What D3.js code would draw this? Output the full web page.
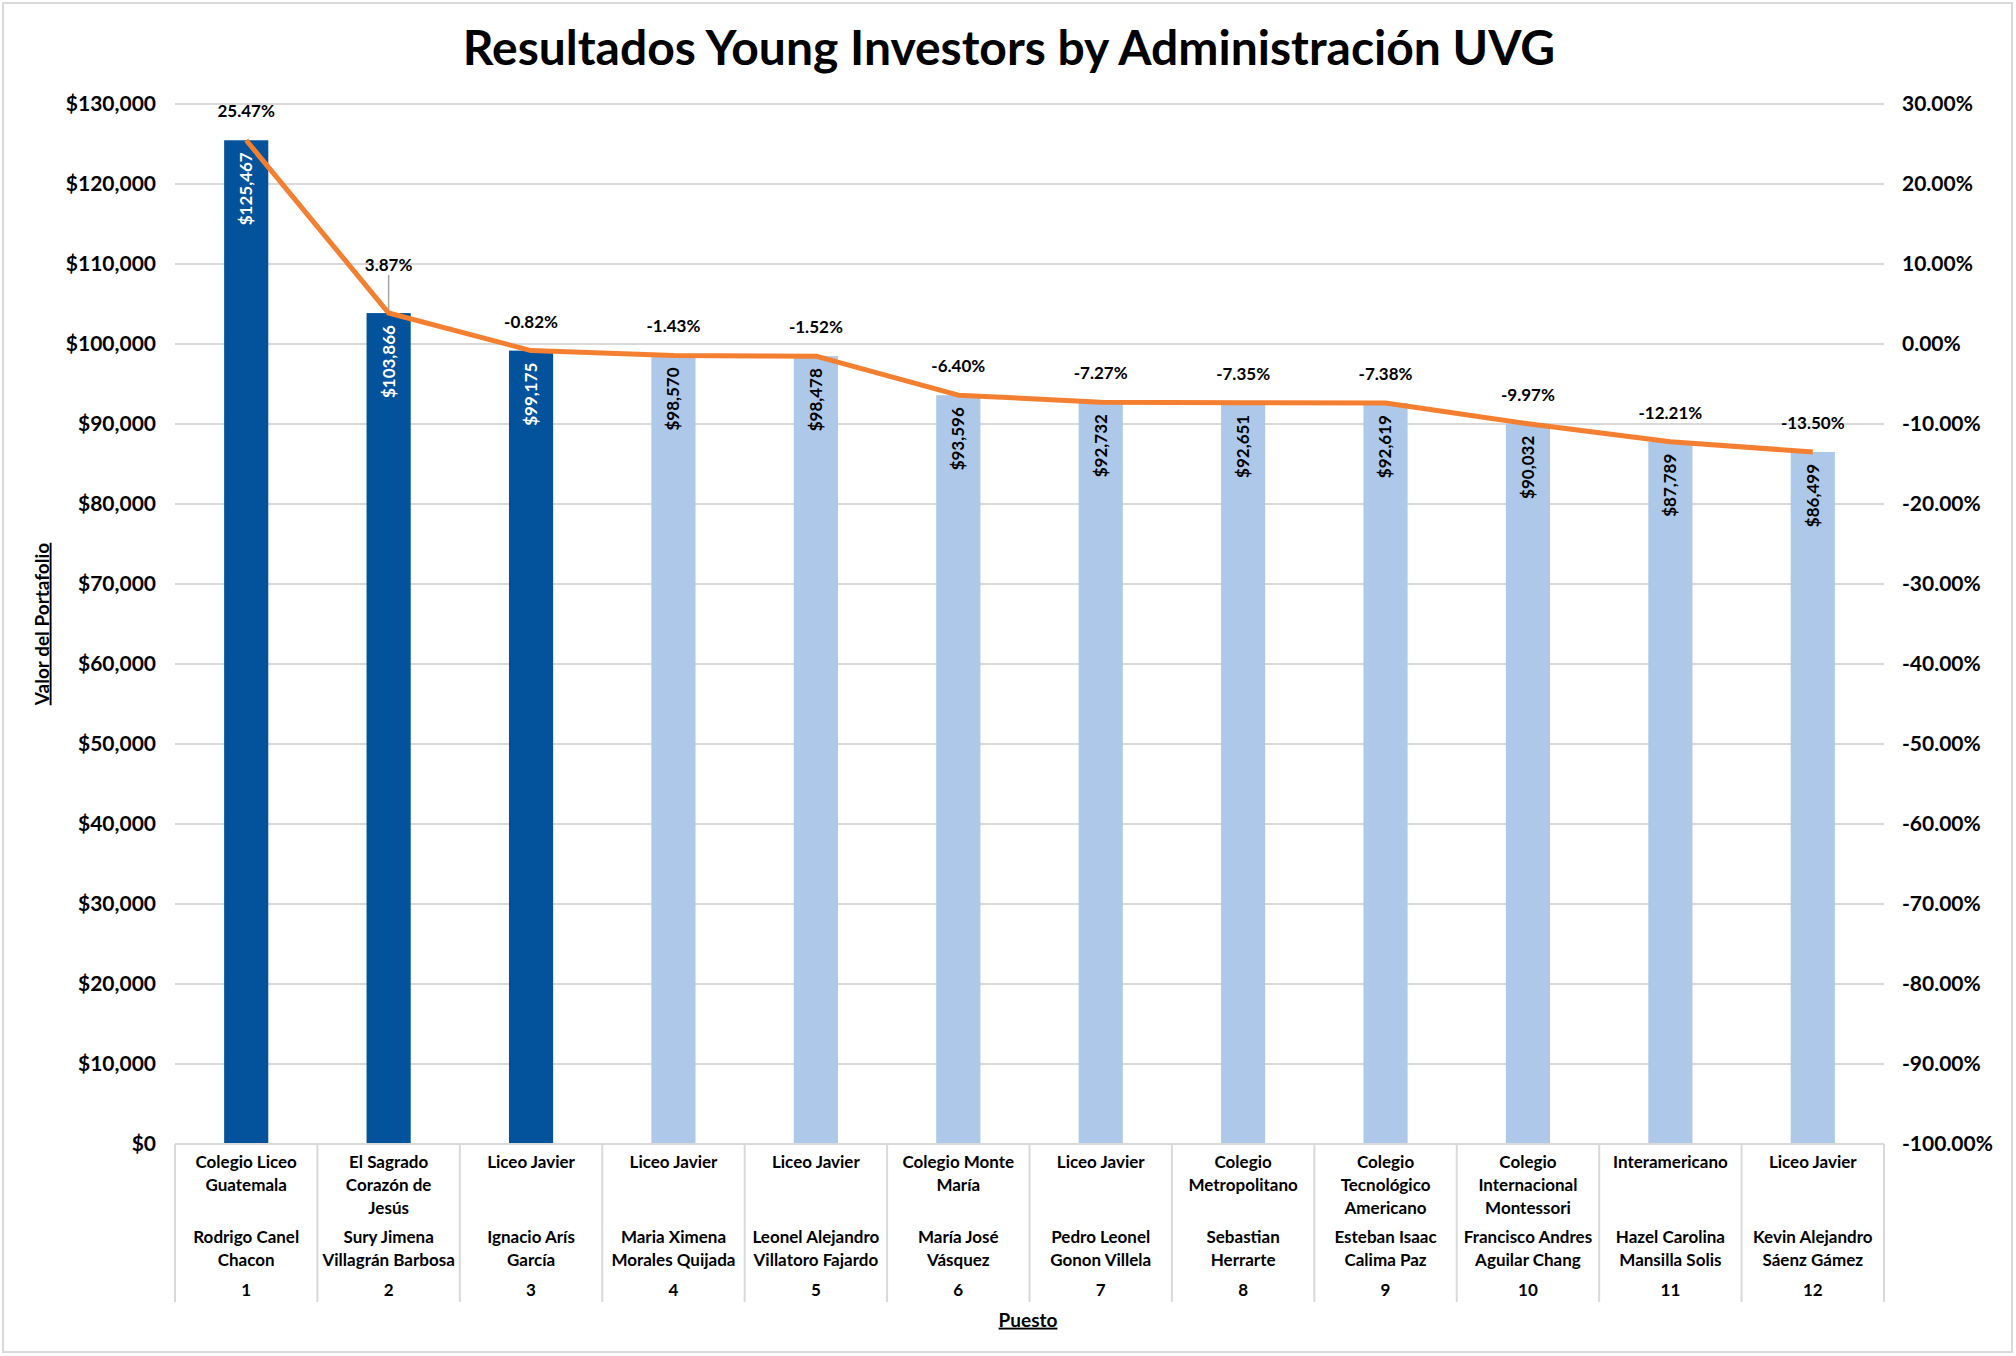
<!DOCTYPE html>
<html>
<head>
  <meta charset="UTF-8"/>
  <title>Resultados Young Investors</title>
  <script src="https://cdn.jsdelivr.net/npm/d3@7"></script>
  <style>
    body { margin: 0; background: #fff; font-family: 'Lato', sans-serif; }
    text { fill: #000; }
    .tick-lbl { font-size: 21px; font-weight: 700; }
    .cat { font-size: 17px; font-weight: 700; }
    .pct { font-size: 17px; font-weight: 700; }
    .val { font-size: 17px; font-weight: 700; }
    .axis-title { font-size: 19px; font-weight: 700; text-decoration: underline; }
  </style>
</head>
<body>
<svg width="2016" height="1356"></svg>
<script>
// --- data ---
var ranks = ["1", "2", "3", "4", "5", "6", "7", "8", "9", "10", "11", "12"];
var schools = [
  "Colegio Liceo\nGuatemala",
  "El Sagrado\nCorazón de\nJesús",
  "Liceo Javier",
  "Liceo Javier",
  "Liceo Javier",
  "Colegio Monte\nMaría",
  "Liceo Javier",
  "Colegio\nMetropolitano",
  "Colegio\nTecnológico\nAmericano",
  "Colegio\nInternacional\nMontessori",
  "Interamericano",
  "Liceo Javier"
];
var students = [
  "Rodrigo Canel\nChacon",
  "Sury Jimena\nVillagrán Barbosa",
  "Ignacio Arís\nGarcía",
  "Maria Ximena\nMorales Quijada",
  "Leonel Alejandro\nVillatoro Fajardo",
  "María José\nVásquez",
  "Pedro Leonel\nGonon Villela",
  "Sebastian\nHerrarte",
  "Esteban Isaac\nCalima Paz",
  "Francisco Andres\nAguilar Chang",
  "Hazel Carolina\nMansilla Solis",
  "Kevin Alejandro\nSáenz Gámez"
];
var portfolio = [125467, 103866, 99175, 98570, 98478, 93596, 92732, 92651, 92619, 90032, 87789, 86499];
var returns = [0.2547, 0.0387, -0.0082, -0.0143, -0.0152, -0.0640, -0.0727, -0.0735, -0.0738, -0.0997, -0.1221, -0.1350];
var leftTicks = d3.range(0, 130001, 10000);
var rightTicks = d3.range(-1, 0.30001, 0.1);
var topThree = 3;

var svg = d3.select("svg"),
    margin = {top: 104, right: 132, bottom: 212, left: 175},
    width = 2016 - margin.left - margin.right,
    height = 1356 - margin.top - margin.bottom;

var loc = d3.formatLocale({decimal: ".", thousands: ",", grouping: [3], currency: ["$", ""], minus: "-"});
var fmtMoney = loc.format("$,.0f"),
    fmtPct = loc.format(".2%");

var x = d3.scaleBand().domain(ranks).range([0, width]).padding(0),
    yL = d3.scaleLinear().domain([0, 130000]).range([height, 0]),
    yR = d3.scaleLinear().domain([-1, 0.3]).range([height, 0]);
var barW = x.bandwidth() * 0.31;

// outer frame
svg.append("rect")
  .attr("x", 3).attr("y", 3).attr("width", 2009).attr("height", 1349)
  .attr("fill", "none").attr("stroke", "#d9d9d9").attr("stroke-width", 2);

svg.append("text")
  .attr("x", 1009).attr("y", 65)
  .attr("text-anchor", "middle")
  .style("font-size", "48px").style("font-weight", 700)
  .text("Resultados Young Investors by Administración UVG");

var g = svg.append("g").attr("transform", "translate(" + margin.left + "," + margin.top + ")");

// gridlines
g.append("g").selectAll("line").data(leftTicks).enter().append("line")
  .attr("x1", 0).attr("x2", width)
  .attr("y1", function(d) { return yL(d); }).attr("y2", function(d) { return yL(d); })
  .attr("stroke", "#d9d9d9").attr("stroke-width", 2);

// left axis
var ax = g.append("g").call(d3.axisLeft(yL).tickValues(leftTicks).tickFormat(fmtMoney).tickSize(0).tickPadding(19));
ax.select(".domain").remove();
ax.selectAll("text").attr("class", "tick-lbl").style("font-family", "Lato");

// right axis
var axR = g.append("g").attr("transform", "translate(" + width + ",0)")
  .call(d3.axisRight(yR).tickValues(rightTicks).tickFormat(fmtPct).tickSize(0).tickPadding(18));
axR.select(".domain").remove();
axR.selectAll("text").attr("class", "tick-lbl").style("font-family", "Lato");

// bars
g.selectAll(".bar").data(portfolio).enter().append("rect")
  .attr("class", "bar")
  .attr("x", function(d, i) { return x(ranks[i]) + (x.bandwidth() - barW) / 2; })
  .attr("y", function(d) { return yL(d); })
  .attr("width", barW)
  .attr("height", function(d) { return height - yL(d); })
  .attr("fill", function(d, i) { return i < topThree ? "#02539c" : "#adc8e8"; });

// bar value labels (inside end, rotated)
g.selectAll(".val").data(portfolio).enter().append("text")
  .attr("class", "val")
  .attr("transform", function(d, i) {
    return "translate(" + (x(ranks[i]) + x.bandwidth() / 2) + "," + (yL(d) + 12) + ") rotate(-90)";
  })
  .attr("text-anchor", "end")
  .attr("dy", "0.35em")
  .style("fill", function(d, i) { return i < topThree ? "#fff" : "#000"; })
  .text(function(d) { return fmtMoney(d); });

// category axis: base line + separators
g.append("line").attr("x1", 0).attr("x2", width).attr("y1", height).attr("y2", height)
  .attr("stroke", "#d9d9d9").attr("stroke-width", 2);
g.append("g").selectAll("line").data(ranks.concat(["end"])).enter().append("line")
  .attr("x1", function(d, i) { return i * x.step(); })
  .attr("x2", function(d, i) { return i * x.step(); })
  .attr("y1", height).attr("y2", height + 158)
  .attr("stroke", "#d9d9d9").attr("stroke-width", 2);

var cats = g.append("g").selectAll(".catg").data(ranks).enter().append("g")
  .attr("transform", function(d) { return "translate(" + (x(d) + x.bandwidth() / 2) + "," + height + ")"; });
cats.each(function(d, i) {
  var c = d3.select(this);
  schools[i].split("\n").forEach(function(s, k) {
    c.append("text").attr("class", "cat").attr("text-anchor", "middle")
      .attr("y", 18 + k * 23).attr("dy", "0.35em").text(s);
  });
  students[i].split("\n").forEach(function(s, k) {
    c.append("text").attr("class", "cat").attr("text-anchor", "middle")
      .attr("y", 93 + k * 23).attr("dy", "0.35em").text(s);
  });
  c.append("text").attr("class", "cat").attr("text-anchor", "middle")
    .attr("y", 146).attr("dy", "0.35em").text(d);
});

// axis titles
svg.append("text").attr("class", "axis-title")
  .attr("x", 1028).attr("y", 1320).attr("dy", "0.35em")
  .attr("text-anchor", "middle").text("Puesto");
svg.append("text").attr("class", "axis-title")
  .attr("transform", "translate(42," + (margin.top + height / 2) + ") rotate(-90)")
  .attr("dy", "0.35em")
  .attr("text-anchor", "middle").text("Valor del Portafolio");

// return line
var line = d3.line()
  .x(function(d, i) { return x(ranks[i]) + x.bandwidth() / 2; })
  .y(function(d) { return yR(d); });

// the 3.87% label sits higher with a leader line
var lift = function(i) { return i === 1 ? 19 : 0; };

g.append("g").selectAll("line").data(returns).enter().filter(function(d, i) { return lift(i) > 0; })
  .append("line")
  .attr("x1", function(d) { return x(ranks[returns.indexOf(d)]) + x.bandwidth() / 2; })
  .attr("x2", function(d) { return x(ranks[returns.indexOf(d)]) + x.bandwidth() / 2; })
  .attr("y1", function(d) { return yR(d) - 38; })
  .attr("y2", function(d) { return yR(d); })
  .attr("stroke", "#a6a6a6").attr("stroke-width", 1.5);

g.append("path").datum(returns)
  .attr("d", line)
  .attr("fill", "none")
  .attr("stroke", "#f47f31")
  .attr("stroke-width", 5)
  .attr("stroke-linejoin", "round");

g.selectAll(".pct").data(returns).enter().append("text")
  .attr("class", "pct")
  .attr("x", function(d, i) { return x(ranks[i]) + x.bandwidth() / 2; })
  .attr("y", function(d, i) { return yR(d) - 29 - lift(i); })
  .attr("dy", "0.35em")
  .attr("text-anchor", "middle")
  .text(function(d) { return fmtPct(d); });
</script>
</body>
</html>
